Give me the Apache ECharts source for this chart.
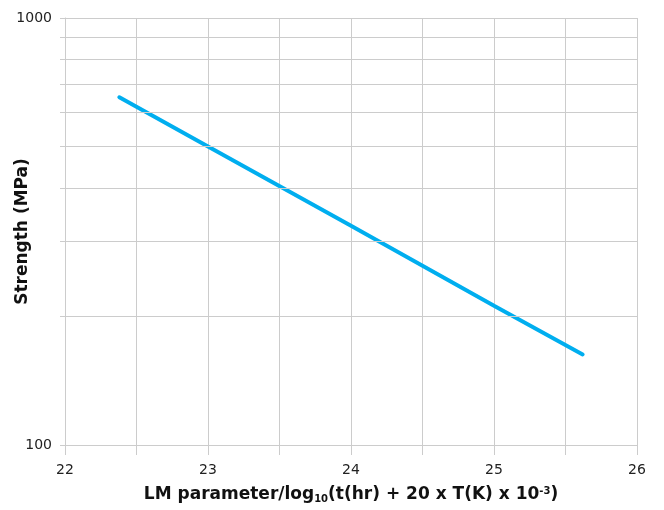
<!DOCTYPE html>
<html><head><meta charset="utf-8">
<script src="https://cdn.jsdelivr.net/npm/echarts@6/dist/echarts.min.js"></script>
<style>html,body{margin:0;padding:0;background:#fff}#c{width:664px;height:510px}</style>
</head><body><div id="c"></div>
<script>
var lmParam = [22.38, 23.0, 24.0, 25.0, 25.62];
var strength = [652, 500, 326, 212, 163];
var yMinorGrid = [200, 300, 400, 500, 600, 700, 800, 900];
var xTicks = [22, 23, 24, 25, 26];

var chart = echarts.init(document.getElementById('c'));
var font = 'DejaVu Sans';
chart.setOption({
  animation: false,
  grid: {left: 65, right: 27, top: 18, bottom: 65, containLabel: false, outerBoundsMode: 'none'},
  xAxis: {
    type: 'value', min: 22, max: 26, interval: 0.5,
    axisLine: {show: true, lineStyle: {color: '#cccccc', width: 1}},
    axisTick: {show: true, length: 10, lineStyle: {color: '#cccccc'}},
    splitLine: {show: true, lineStyle: {color: '#cccccc', width: 1}},
    axisLabel: {
      fontFamily: font, fontSize: 14, color: '#222', margin: 18,
      formatter: function (v) { return xTicks.indexOf(v) >= 0 ? String(v) : ''; }
    },
    name: 'LM parameter/log{sub|10}(t(hr) + 20 x T(K) x 10{sup|-3})',
    nameLocation: 'middle', nameGap: 41, nameMoveOverlap: false,
    nameTextStyle: {
      fontFamily: font, fontSize: 17, fontWeight: 'bold', color: '#111',
      rich: {
        sub: {fontFamily: font, fontSize: 10, fontWeight: 'bold', color: '#111', verticalAlign: 'bottom', padding: [8, 0, 0, 0]},
        sup: {fontFamily: font, fontSize: 10, fontWeight: 'bold', color: '#111', verticalAlign: 'top', padding: [0, 0, 8, 0]}
      }
    }
  },
  yAxis: {
    type: 'log', logBase: 10, min: 100, max: 1000,
    axisLine: {show: true, lineStyle: {color: '#cccccc', width: 1}},
    axisTick: {show: true, length: 5, lineStyle: {color: '#cccccc'}},
    minorTick: {show: true, splitNumber: 9, length: 5, lineStyle: {color: '#cccccc'}},
    splitLine: {show: true, lineStyle: {color: '#cccccc', width: 1}},
    axisLabel: {fontFamily: font, fontSize: 14, color: '#222', margin: 13,
      formatter: function (v) { return String(Math.round(v)); }},
    name: 'Strength (MPa)', nameLocation: 'middle', nameGap: 34, nameMoveOverlap: false,
    nameTextStyle: {fontFamily: font, fontSize: 17, fontWeight: 'bold', color: '#111'}
  },
  series: [{
    type: 'line',
    data: lmParam.map(function (x, i) { return [x, strength[i]]; }),
    showSymbol: false, symbol: 'none',
    lineStyle: {color: '#00aeef', width: 4, cap: 'round'},
    markLine: {
      silent: true, symbol: 'none', label: {show: false},
      lineStyle: {color: '#cccccc', width: 1, type: 'solid'},
      data: yMinorGrid.map(function (v) { return {yAxis: v}; })
    }
  }]
});
</script></body></html>
